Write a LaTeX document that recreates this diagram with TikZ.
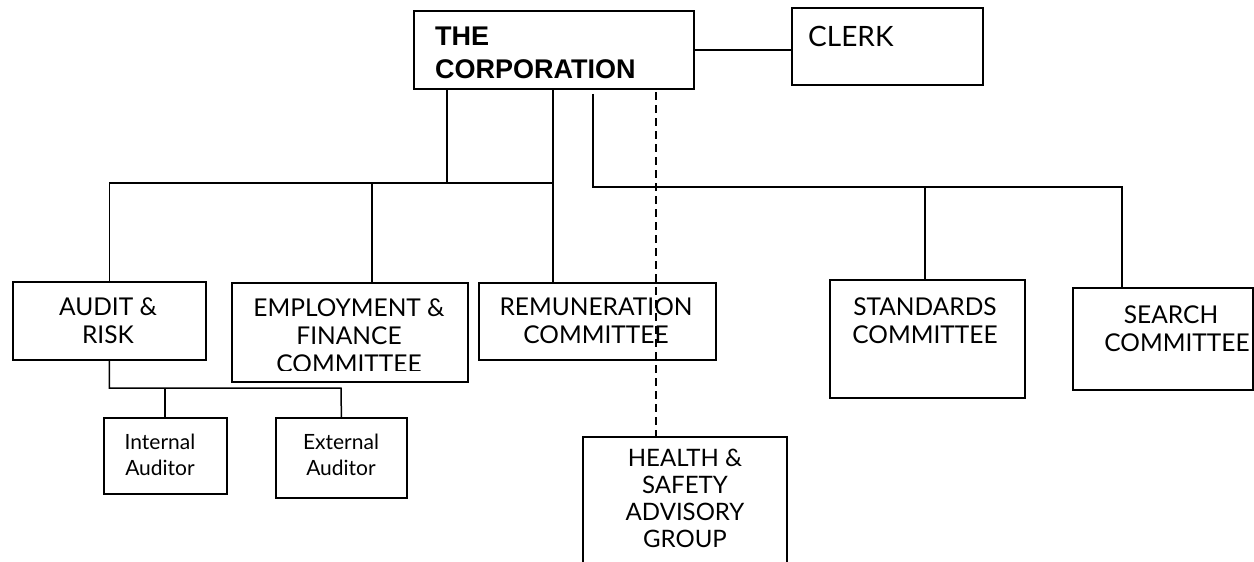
\documentclass[tikz,border=0pt]{standalone}
\usepackage{fontspec}
\setmainfont{Lato}
\newfontfamily\arialf{Liberation Sans}
\tikzset{
  x=1pt, y=-1pt,
  box/.style={draw, line width=1.8pt, anchor=north west, inner sep=0pt},
  conn/.style={line width=1.5pt},
  lbl/.style={anchor=base, inner sep=0pt, align=center, font=\fontsize{24.5}{28}\selectfont},
  small/.style={anchor=base, inner sep=0pt, align=center, font=\fontsize{21}{26}\selectfont},
}
\begin{document}
\begin{tikzpicture}
\clip (0,0) rectangle (1254,562);
\fill[white] (0,0) rectangle (1254,562);
% boxes
\node[box, minimum width=280pt, minimum height=78pt] (corp) at (413,10) {};
\node[box, minimum width=191pt, minimum height=77pt] (clerk) at (791,7) {};
\node[box, minimum width=193pt, minimum height=78pt] (audit) at (12,281) {};
\node[box, minimum width=236pt, minimum height=99pt] (emp) at (231,282) {};
\node[box, minimum width=237pt, minimum height=77pt] (rem) at (478,282) {};
\node[box, minimum width=195pt, minimum height=118pt] (std) at (829,279) {};
\node[box, minimum width=180pt, minimum height=102pt] (search) at (1072,287) {};
\node[box, minimum width=123pt, minimum height=76pt] (int) at (103,417) {};
\node[box, minimum width=131pt, minimum height=80pt] (ext) at (275,417) {};
\node[box, minimum width=204pt, minimum height=160pt] (health) at (582,436) {};
% texts
\node[anchor=base west, inner sep=0pt, align=left, font=\arialf\bfseries\fontsize{27}{33}\selectfont] (corpt) at (435,78) {THE\\CORPORATION};
\node[anchor=base west, inner sep=0pt, font=\fontsize{28}{30}\selectfont] (clerkt) at (808,46) {CLERK};
\node[lbl] (auditt) at (108,343) {AUDIT \&\\RISK};
\begin{scope}
\clip (231,282) rectangle (467,370);
\node[lbl] (empt) at (349,372) {EMPLOYMENT \&\\FINANCE\\COMMITTEE};
\end{scope}
\node[lbl] (remt) at (596,343) {REMUNERATION\\COMMITTEE};
\node[lbl] (stdt) at (925,343) {STANDARDS\\COMMITTEE};
\node[lbl] (searcht) at (1177,351) {SEARCH\hspace*{12pt}\\COMMITTEE};
\node[small] (intt) at (160,475) {Internal\\Auditor};
\node[small] (extt) at (341,475) {External\\Auditor};
\node[lbl, font=\fontsize{24}{26.7}\selectfont] (healtht) at (685,547) {HEALTH \&\\SAFETY\\ADVISORY\\GROUP};
% junction coordinates
\coordinate (j1) at (447,183);
\coordinate (hr) at (553,183);
\coordinate (ej) at (372,183);
\coordinate (rj) at (593,187);
\coordinate (stj) at (925,187);
\coordinate (sj) at (1122,187);
\coordinate (dj) at (656,92);
\coordinate (ij) at (165,388);
\coordinate (ae) at (341,388);
% connectors
\draw[conn] (corp.east) -- (corp.east -| clerk.west);
\draw[conn] (corp.south -| j1) -- (j1);
\draw[conn] (audit.north) |- (hr);
\draw[conn] (ej) -- (ej |- emp.north);
\draw[conn] (corp.south -| hr) -- (hr |- rem.north);
\draw[conn] ([yshift=-4pt]corp.south -| rj) |- (sj) -- (sj |- search.north);
\draw[conn] (stj) -- (stj |- std.north);
\draw[conn, dash pattern=on 8pt off 5pt] (dj) -- (dj |- health.north);
\draw[conn] (audit.south) |- (ae) -- (ext.north);
\draw[conn] (ij) -- (ij |- int.north);
\end{tikzpicture}
\end{document}
